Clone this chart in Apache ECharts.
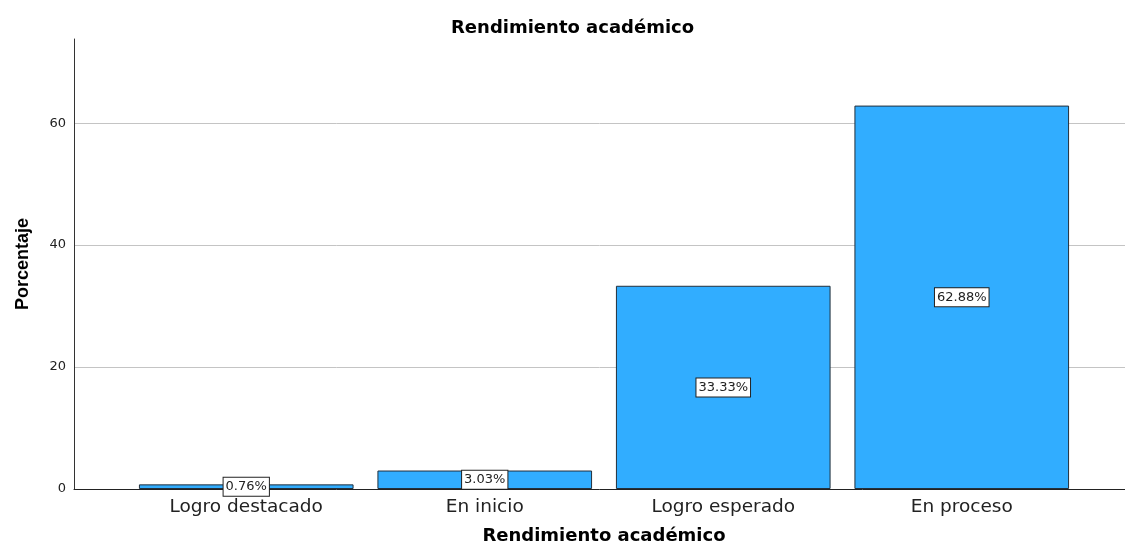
<!DOCTYPE html>
<html>
<head>
<meta charset="utf-8">
<script src="https://cdn.jsdelivr.net/npm/echarts@6/dist/echarts.min.js"></script>
<style>html,body{margin:0;padding:0;background:#fff}#c{width:1125px;height:551px}</style>
</head>
<body>
<div id="c"></div>
<script>
const categories = ['Logro destacado', 'En inicio', 'Logro esperado', 'En proceso'];
const percentages = [0.76, 3.03, 33.33, 62.88];
const yMin = 0, yMax = 73.8, yInterval = 20;
const titleText = 'Rendimiento académico';
const xName = 'Rendimiento académico';
const yName = 'Porcentaje';

const chart = echarts.init(document.getElementById('c'), null, {renderer: 'canvas'});
const F = 'DejaVu Sans';
chart.setOption({
  animation: false,
  backgroundColor: '#ffffff',
  title: {
    text: titleText, left: 446, top: 14,
    textStyle: {fontFamily: F, fontWeight: 'bold', fontSize: 18, color: '#000'}
  },
  grid: [
    {left: 74, right: 0, top: 39, bottom: 62},
    {left: 127, right: 44, top: 39, bottom: 62}
  ],
  xAxis: [
    {gridIndex: 0, type: 'value', min: 0, max: 1, axisLine: {show: true, onZero: false, lineStyle: {color: '#222', width: 1}},
     axisTick: {show: false}, axisLabel: {show: false}, splitLine: {show: false}},
    {gridIndex: 1, type: 'category', data: categories,
     axisLine: {show: false}, axisTick: {show: false},
     axisLabel: {margin: 9, fontFamily: F, fontSize: 18.5, color: '#222'},
     name: xName, nameLocation: 'middle', nameGap: 38,
     nameTextStyle: {fontFamily: F, fontWeight: 'bold', fontSize: 18, color: '#000'}}
  ],
  yAxis: [
    {gridIndex: 0, type: 'value', min: yMin, max: yMax, interval: yInterval,
     axisLine: {show: true, lineStyle: {color: '#333', width: 1}}, axisTick: {show: false},
     axisLabel: {margin: 8, fontFamily: F, fontSize: 13, color: '#222', showMaxLabel: false},
     splitLine: {show: true, showMaxLine: false, lineStyle: {color: '#c4c4c4', width: 1}},
     name: yName, nameLocation: 'middle', nameGap: 42, nameRotate: 90,
     nameTextStyle: {fontFamily: 'Liberation Sans', fontWeight: 'bold', fontSize: 18, color: '#000'}},
    {gridIndex: 1, type: 'value', min: yMin, max: yMax, interval: yInterval, show: false}
  ],
  series: [{
    type: 'bar', xAxisIndex: 1, yAxisIndex: 1, data: percentages,
    barCategoryGap: '10%',
    itemStyle: {color: '#31adff', borderColor: '#23303c', borderWidth: 1},
    label: {
      show: true, position: 'inside',
      formatter: p => p.value.toFixed(2) + '%',
      fontFamily: F, fontSize: 13, color: '#222',
      backgroundColor: '#fff', borderColor: '#222', borderWidth: 1, padding: [3, 2, 2, 2]
    }
  }]
});
</script>
</body>
</html>
